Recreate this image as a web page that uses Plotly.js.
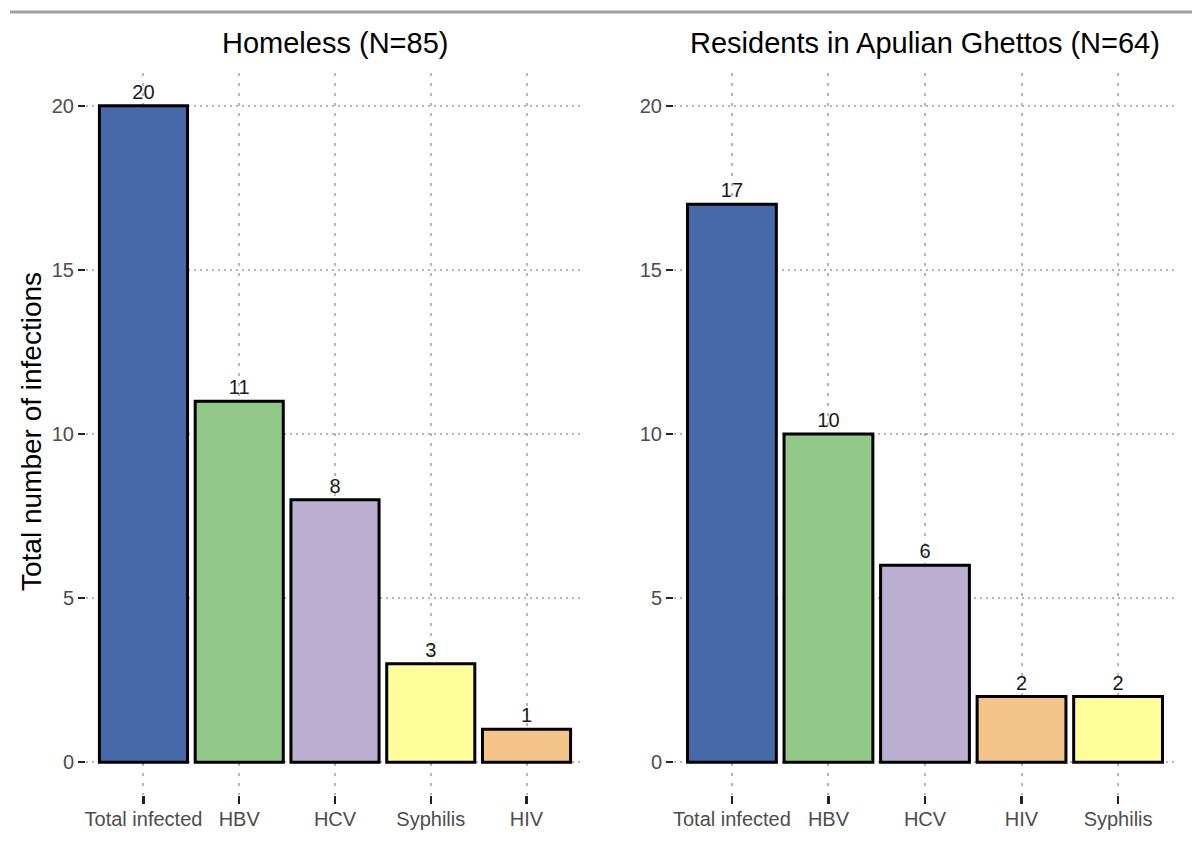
<!DOCTYPE html>
<html>
<head>
<meta charset="utf-8">
<script src="https://cdn.plot.ly/plotly-3.0.1.min.js"></script>
<style>html,body{margin:0;padding:0;background:#fff}#chart{width:1200px;height:843px}</style>
</head>
<body>
<div id="chart"></div>
<script>
const homelessCategories = ["Total infected", "HBV", "HCV", "Syphilis", "HIV"];
const homelessValues = [20, 11, 8, 3, 1];
const ghettoCategories = ["Total infected", "HBV", "HCV", "HIV", "Syphilis"];
const ghettoValues = [17, 10, 6, 2, 2];
const panelTitles = ["Homeless (N=85)", "Residents in Apulian Ghettos (N=64)"];
const yTitle = "Total number of infections";
const yTicks = [0, 5, 10, 15, 20];

const colorMap = {
  "Total infected": "#4569A9",
  "HBV": "#92C888",
  "HCV": "#BBAFD2",
  "Syphilis": "#FFFE9A",
  "HIV": "#F4C488"
};

const FONT = "Liberation Sans, Arial, sans-serif";

function barTrace(cats, vals, xa, ya) {
  return {
    type: "bar",
    x: cats,
    y: vals,
    xaxis: xa,
    yaxis: ya,
    text: vals.map(String),
    textposition: "outside",
    cliponaxis: false,
    textfont: {family: FONT, size: 20, color: "#1a1a1a"},
    marker: {color: cats.map(c => colorMap[c]), line: {color: "#000", width: 3}},
    hoverinfo: "skip",
    showlegend: false
  };
}

const xCommon = {
  type: "category",
  range: [-0.6, 4.6],
  showline: false,
  zeroline: false,
  showgrid: true,
  gridcolor: "#b5b5b5",
  gridwidth: 2,
  griddash: "3px,7px",
  ticks: "outside",
  ticklen: 8,
  tickwidth: 2.5,
  tickcolor: "#222",
  ticklabelstandoff: -2,
  tickfont: {family: FONT, size: 20, color: "#4d4d4d"},
  automargin: false,
  fixedrange: true
};
const yCommon = {
  range: [-1, 21],
  tickvals: yTicks,
  ticktext: yTicks.map(String),
  showline: false,
  zeroline: false,
  showgrid: true,
  gridcolor: "#b5b5b5",
  gridwidth: 2,
  griddash: "2px,4px",
  ticks: "outside",
  ticklen: 7,
  tickwidth: 2.5,
  tickcolor: "#222",
  tickfont: {family: FONT, size: 20, color: "#4d4d4d"},
  automargin: false,
  fixedrange: true
};

const layout = {
  width: 1200,
  height: 843,
  margin: {l: 0, r: 0, t: 0, b: 0},
  paper_bgcolor: "#fff",
  plot_bgcolor: "#fff",
  bargap: 0.08,
  font: {family: FONT},
  xaxis: Object.assign({}, xCommon, {domain: [86/1200, 584/1200], anchor: "y"}),
  yaxis: Object.assign({}, yCommon, {domain: [1 - 795/843, 1 - 73/843], anchor: "x"}),
  xaxis2: Object.assign({}, xCommon, {domain: [674/1200, 1176/1200], anchor: "y2"}),
  yaxis2: Object.assign({}, yCommon, {domain: [1 - 795/843, 1 - 73/843], anchor: "x2"}),
  annotations: [
    {text: panelTitles[0], xref: "paper", yref: "paper", x: 335/1200, y: 1 - 43/843, xanchor: "center", yanchor: "middle", showarrow: false, font: {family: FONT, size: 29, color: "#000"}},
    {text: panelTitles[1], xref: "paper", yref: "paper", x: 925/1200, y: 1 - 43/843, xanchor: "center", yanchor: "middle", showarrow: false, font: {family: FONT, size: 29, color: "#000"}},
    {text: yTitle, xref: "paper", yref: "paper", x: 31/1200, y: 1 - 432/843, xanchor: "center", yanchor: "middle", textangle: -90, showarrow: false, font: {family: FONT, size: 28, color: "#000"}}
  ],
  shapes: [
    {type: "line", xref: "paper", yref: "paper", x0: 10/1200, x1: 1192/1200, y0: 1 - 12/843, y1: 1 - 12/843, line: {color: "#a0a0a0", width: 3}}
  ]
};

Plotly.newPlot("chart", [
  barTrace(homelessCategories, homelessValues, "x", "y"),
  barTrace(ghettoCategories, ghettoValues, "x2", "y2")
], layout, {staticPlot: true, displayModeBar: false});
</script>
</body>
</html>
